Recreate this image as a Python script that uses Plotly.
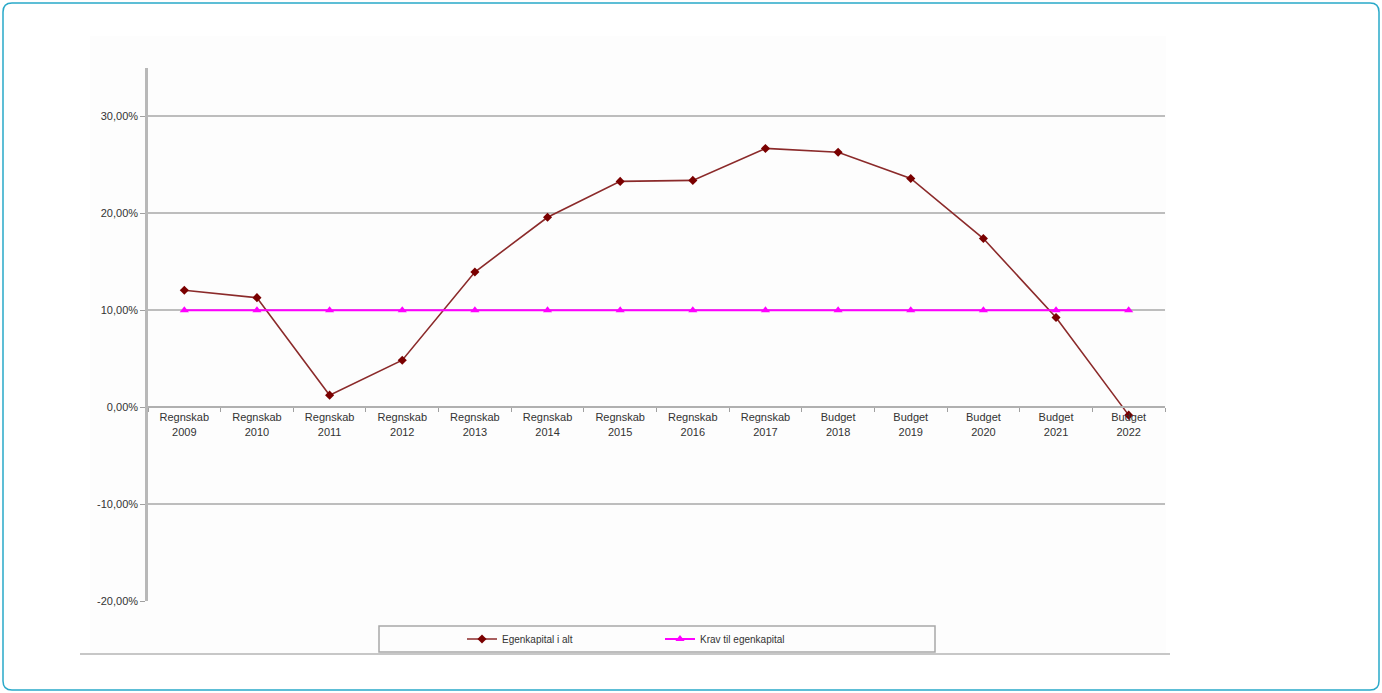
import plotly.graph_objects as go

categories = ["Regnskab<br>2009", "Regnskab<br>2010", "Regnskab<br>2011", "Regnskab<br>2012",
              "Regnskab<br>2013", "Regnskab<br>2014", "Regnskab<br>2015", "Regnskab<br>2016",
              "Regnskab<br>2017", "Budget<br>2018", "Budget<br>2019", "Budget<br>2020",
              "Budget<br>2021", "Budget<br>2022"]
egenkapital = [12.06, 11.3, 1.24, 4.85, 13.95, 19.6, 23.3, 23.4, 26.7, 26.3, 23.6, 17.4, 9.25, -0.82]
krav = [10, 10, 10, 10, 10, 10, 10, 10, 10, 10, 10, 10, 10, 10]
y_ticks = [-20, -10, 0, 10, 20, 30]
y_tick_labels = ["-20,00%", "-10,00%", "0,00%", "10,00%", "20,00%", "30,00%"]

W, H = 1382, 693
L, R, T, B = 148, 1165, 68, 601
YMIN, YMAX = -20, 35


def px(x):
    return (x - L) / (R - L)


def py(y):
    return (B - y) / (B - T)


fig = go.Figure()
fig.add_trace(go.Scatter(
    x=categories, y=egenkapital, name="Egenkapital i alt", mode="lines+markers",
    line=dict(color="#8B2A2A", width=1.6),
    marker=dict(symbol="diamond", size=7, color="#7A0000"),
))
fig.add_trace(go.Scatter(
    x=categories, y=krav, name="Krav til egenkapital", mode="lines+markers",
    line=dict(color="#FF00FF", width=2),
    marker=dict(symbol="triangle-up", size=8, color="#FF00FF"),
))

# rounded outer border
x0, x1, y0, y1, r = 3, 1379, 3, 690, 9
path = (f"M {px(x0 + r)},{py(y0)} L {px(x1 - r)},{py(y0)} Q {px(x1)},{py(y0)} {px(x1)},{py(y0 + r)} "
        f"L {px(x1)},{py(y1 - r)} Q {px(x1)},{py(y1)} {px(x1 - r)},{py(y1)} "
        f"L {px(x0 + r)},{py(y1)} Q {px(x0)},{py(y1)} {px(x0)},{py(y1 - r)} "
        f"L {px(x0)},{py(y0 + r)} Q {px(x0)},{py(y0)} {px(x0 + r)},{py(y0)} Z")

shapes = [
    dict(type="path", path=path, xref="paper", yref="paper",
         line=dict(color="#29A9C9", width=1.5), layer="below"),
    dict(type="rect", xref="paper", yref="paper", x0=px(90), x1=px(1166), y0=py(653), y1=py(36),
         fillcolor="#FDFDFD", line=dict(width=0), layer="below"),
    dict(type="line", xref="paper", yref="paper", x0=px(80), x1=px(1170), y0=py(654), y1=py(654),
         line=dict(color="#B5B5B5", width=1.5)),
    dict(type="rect", xref="paper", yref="paper", x0=px(379), x1=px(935), y0=py(652), y1=py(626),
         fillcolor="rgba(0,0,0,0)", line=dict(color="#A8A8A8", width=1.5)),
]

fig.update_layout(
    width=W, height=H,
    margin=dict(l=L, r=W - R, t=T, b=H - B),
    paper_bgcolor="white", plot_bgcolor="rgba(0,0,0,0)",
    font=dict(family="Liberation Sans, Arial, sans-serif", size=11, color="#333333"),
    showlegend=True,
    legend=dict(orientation="h", x=px(462), xanchor="left", y=py(639), yanchor="middle",
                entrywidth=153, bgcolor="rgba(0,0,0,0)", font=dict(size=10, color="#333333")),
    shapes=shapes,
    xaxis=dict(
        type="category", range=[-0.5, 13.5], anchor="free",
        position=(0 - YMIN) / (YMAX - YMIN),
        showline=True, linecolor="#B0B0B0", linewidth=2,
        ticks="outside", tickson="boundaries", ticklen=4, tickcolor="#A0A0A0",
        showgrid=False, tickfont=dict(size=11, color="#333333"),
    ),
    yaxis=dict(
        range=[YMIN, YMAX], tickvals=y_ticks, ticktext=y_tick_labels,
        showline=True, linecolor="#B8B8B8", linewidth=2.5,
        showgrid=True, gridcolor="#BDBDBD", gridwidth=2, zeroline=False,
        ticks="outside", ticklen=5, tickcolor="#A0A0A0",
        tickfont=dict(size=11, color="#333333"),
    ),
)

fig.write_html("out.html", config={"displayModeBar": False},
               post_script="document.body.style.margin='0px';")
